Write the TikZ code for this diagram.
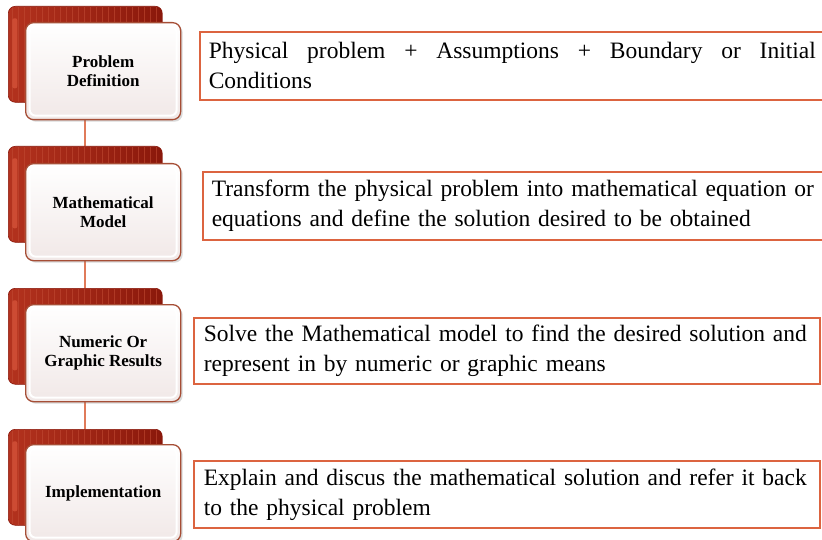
\documentclass[tikz,border=0pt]{standalone}
\usepackage{fontspec}
\setmainfont{Liberation Serif}
\usetikzlibrary{shadows,calc}
\pgfdeclarelayer{bg}
\pgfsetlayers{bg,main}
\definecolor{redL}{HTML}{B3321E}
\definecolor{redR}{HTML}{8A180B}
\definecolor{stripe}{HTML}{C04A33}
\definecolor{hilite}{HTML}{D9573D}
\definecolor{frontedge}{HTML}{A64E36}
\definecolor{frontbot}{HTML}{F1E8E7}
\definecolor{boxedge}{HTML}{DC6440}
\definecolor{linkc}{HTML}{E07B5A}
\tikzset{
  redback/.style={anchor=north west, minimum width=154pt, minimum height=96pt,
    rounded corners=7pt, left color=redL, right color=redR, draw=redR, line width=0.6pt,
    path picture={
      \foreach \i in {0,...,26}{
        \draw[stripe, line width=0.9pt, opacity=0.6]
          ($(path picture bounding box.north west)+(4+\i*6,0)$) -- ++(0,100);}
      \fill[hilite, opacity=0.7, rounded corners=2pt]
          ($(path picture bounding box.north west)+(4,12)$) rectangle ++(5,70);
    }},
  frontbox/.style={anchor=north west, minimum width=155pt, minimum height=97pt,
    rounded corners=8pt, top color=white, bottom color=frontbot, draw=frontedge,
    line width=1.3pt, align=center, font=\fontsize{17}{18.5}\selectfont\bfseries,
    drop shadow={opacity=0.3, shadow xshift=2pt, shadow yshift=-2pt},
    path picture={
      \draw[white, line width=2pt, rounded corners=6pt]
        ($(path picture bounding box.north west)+(4,4)$) rectangle
        ($(path picture bounding box.south east)+(-4,-4)$);
    }},
  textbox/.style={anchor=north west, draw=boxedge, line width=1.6pt,
    minimum height=67pt, inner ysep=0pt,
    font=\fontsize{23.5}{30}\selectfont},
  link/.style={draw=linkc, line width=2pt}
}
\begin{document}
\begin{tikzpicture}[x=1pt,y=-1pt]
\useasboundingbox (0,0) rectangle (822,540);
% flow boxes
\node[redback] (Ar) at (8,6) {};
\node[frontbox] (Aw) at (25,22) {Problem\\Definition};
\node[redback] (Br) at (8,146) {};
\node[frontbox] (Bw) at (25,163) {Mathematical\\Model};
\node[redback] (Cr) at (8,288) {};
\node[frontbox] (Cw) at (25,304) {Numeric Or\\Graphic Results};
\node[redback] (Dr) at (8,429) {};
\node[frontbox] (Dw) at (25,444) {Implementation};
% connectors
\begin{pgfonlayer}{bg}
\draw[link] (Ar.south) -- (Br.north);
\draw[link] (Br.south) -- (Cr.north);
\draw[link] (Cr.south) -- (Dr.north);
\end{pgfonlayer}
% text boxes
\node[textbox, inner xsep=9pt, text width=607pt, align=justify, minimum height=68pt] (At) at (199,31)
  {Physical problem + Assumptions + Boundary or Initial\linebreak Conditions};
\node[textbox, inner xsep=9pt, text width=612pt, align=left, minimum height=68pt] (Bt) at (202,171)
  {Transform the physical problem into mathematical equation or\\equations and define the solution desired to be obtained};
\node[textbox, inner xsep=10pt, text width=606pt, align=left, minimum height=66pt] (Ct) at (193,317)
  {Solve the Mathematical model to find the desired solution and\\represent in by numeric or graphic means};
\node[textbox, inner xsep=10pt, text width=606pt, align=left, minimum height=67pt] (Dt) at (193,460)
  {Explain and discus the mathematical solution and refer it back\\to the physical problem};
\end{tikzpicture}
\end{document}
